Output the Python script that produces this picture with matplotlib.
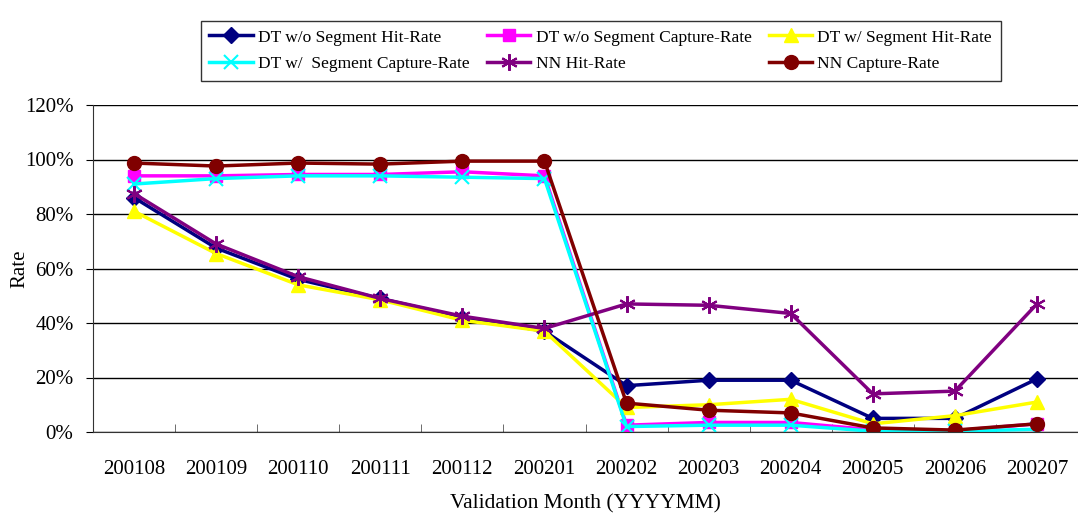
import numpy as np
import matplotlib
matplotlib.use("Agg")
import matplotlib.pyplot as plt
from matplotlib.ticker import FuncFormatter, FixedLocator

plt.rcParams["font.family"] = ["Liberation Serif", "DejaVu Serif"]

months = ["200108", "200109", "200110", "200111", "200112", "200201",
          "200202", "200203", "200204", "200205", "200206", "200207"]

dt_wo_hit = [86, 67.5, 56, 49, 42, 37, 17, 19, 19, 5, 5, 19.5]
dt_wo_cap = [94, 94, 94.5, 94.5, 95.5, 94, 2.5, 3.5, 3.5, 0.8, 0.5, 3]
dt_w_hit = [81, 65.5, 54, 48.5, 41, 37, 9, 10, 12, 3, 6, 11]
dt_w_cap = [91, 93, 94, 94, 93.5, 93, 2, 2.5, 2.5, 0.3, 0.3, 1]
nn_hit = [87.5, 69, 57, 49, 42.5, 38, 47, 46.5, 43.5, 14, 15, 47]
nn_cap = [98.7, 97.6, 98.7, 98.3, 99.4, 99.4, 10.6, 8, 7, 1.5, 0.7, 3]

series = [
    ("DT w/o Segment Hit-Rate", dt_wo_hit, "#000080", "D", 8),
    ("DT w/o Segment Capture-Rate", dt_wo_cap, "#FF00FF", "s", 9),
    ("DT w/ Segment Hit-Rate", dt_w_hit, "#FFFF00", "^", 10),
    ("DT w/  Segment Capture-Rate", dt_w_cap, "#00FFFF", "x", 10),
    ("NN Hit-Rate", nn_hit, "#800080", (6, 2, 0), 12),
    ("NN Capture-Rate", nn_cap, "#800000", "o", 10),
]

fig = plt.figure(figsize=(10.78, 5.16), dpi=100)
ax = fig.add_axes([93 / 1078, 1 - 432 / 516, 985 / 1078, 327 / 516])

x = np.arange(len(months))
handles = {}
for label, vals, color, marker, ms in series:
    (h,) = ax.plot(x, vals, color=color, lw=2.5, marker=marker, markersize=ms,
                   markeredgewidth=1.5 if marker in ("x", (6, 2, 0)) else 1,
                   markeredgecolor=color, label=label)
    handles[label] = h

ax.set_xlim(-0.5, len(months) - 0.5)
ax.set_ylim(0, 120)
ax.set_yticks(np.arange(0, 121, 20))
ax.yaxis.set_major_formatter(FuncFormatter(lambda v, p: f"{int(v)}%"))
ax.grid(axis="y", color="black", lw=1)
ax.set_axisbelow(True)

ax.set_xticks(x)
ax.set_xticklabels(months)
ax.xaxis.set_minor_locator(FixedLocator(np.arange(-0.5, len(months), 1)))
ax.tick_params(axis="x", which="major", length=0, pad=20, labelsize=15)
ax.tick_params(axis="x", which="minor", length=6, direction="in", color="#555555")
ax.tick_params(axis="y", length=5, labelsize=15, pad=9)

for s in ("top", "right"):
    ax.spines[s].set_visible(False)
ax.spines["left"].set_color("#333333")
ax.spines["bottom"].set_color("#333333")

ax.set_ylabel("Rate", fontsize=15)
ax.yaxis.set_label_coords(-64 / 985, 0.5)
ax.set_xlabel("Validation Month (YYYYMM)", fontsize=15.5, labelpad=11)

names = [s[0] for s in series]
order = [names[0], names[3], names[1], names[4], names[2], names[5]]
leg = fig.legend([handles[n] for n in order], order, ncol=3,
                 loc="upper left", bbox_to_anchor=(192 / 1078, 1 - 12 / 516),
                 fontsize=12.5, frameon=True, fancybox=False, edgecolor="black",
                 handlelength=2.5, columnspacing=1.0, borderpad=0.5,
                 labelspacing=0.6, handletextpad=0.3)
leg.get_frame().set_linewidth(1)

fig.savefig("out.png", dpi=100)
